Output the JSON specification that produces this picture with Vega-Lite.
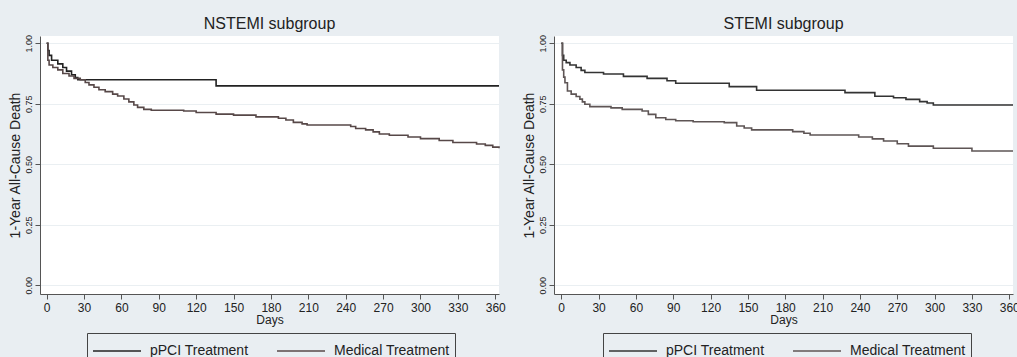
{
  "$schema": "https://vega.github.io/schema/vega-lite/v6.json",
  "background": "#e9eef2",
  "padding": {"left": 8, "top": 15, "right": 0, "bottom": 0},
  "config": {
    "font": "Liberation Sans",
    "view": {"stroke": null, "fill": "white"},
    "title": {"fontSize": 16, "fontWeight": "normal", "color": "#222222", "offset": 3},
    "axis": {"domainColor": "#555555", "tickColor": "#555555", "labelColor": "#222222", "titleColor": "#222222", "titleFontWeight": "normal", "tickSize": 5},
    "legend": {
      "orient": "none", "direction": "horizontal", "title": null,
      "symbolType": "M-1,0H3", "symbolSize": 576, "symbolStrokeWidth": 1.5,
      "labelFontSize": 14, "labelColor": "#222222", "labelOffset": 32, "columnPadding": 25,
      "padding": 5, "strokeColor": "#444444", "fillColor": "#e9eef2", "labelLimit": 0
    }
  },
  "data": {"values": [
    {"panel":"NSTEMI","group":"pPCI Treatment","day":0,"surv":1.0},
    {"panel":"NSTEMI","group":"pPCI Treatment","day":1,"surv":0.97},
    {"panel":"NSTEMI","group":"pPCI Treatment","day":2,"surv":0.95},
    {"panel":"NSTEMI","group":"pPCI Treatment","day":4,"surv":0.93},
    {"panel":"NSTEMI","group":"pPCI Treatment","day":9,"surv":0.915},
    {"panel":"NSTEMI","group":"pPCI Treatment","day":13,"surv":0.9},
    {"panel":"NSTEMI","group":"pPCI Treatment","day":16,"surv":0.885},
    {"panel":"NSTEMI","group":"pPCI Treatment","day":20,"surv":0.87},
    {"panel":"NSTEMI","group":"pPCI Treatment","day":23,"surv":0.858},
    {"panel":"NSTEMI","group":"pPCI Treatment","day":25,"surv":0.849},
    {"panel":"NSTEMI","group":"pPCI Treatment","day":136,"surv":0.824},
    {"panel":"NSTEMI","group":"pPCI Treatment","day":363,"surv":0.824},
    {"panel":"NSTEMI","group":"Medical Treatment","day":0,"surv":1.0},
    {"panel":"NSTEMI","group":"Medical Treatment","day":1,"surv":0.93},
    {"panel":"NSTEMI","group":"Medical Treatment","day":2,"surv":0.91},
    {"panel":"NSTEMI","group":"Medical Treatment","day":5,"surv":0.9},
    {"panel":"NSTEMI","group":"Medical Treatment","day":9,"surv":0.89},
    {"panel":"NSTEMI","group":"Medical Treatment","day":13,"surv":0.875},
    {"panel":"NSTEMI","group":"Medical Treatment","day":18,"surv":0.865},
    {"panel":"NSTEMI","group":"Medical Treatment","day":22,"surv":0.855},
    {"panel":"NSTEMI","group":"Medical Treatment","day":27,"surv":0.849},
    {"panel":"NSTEMI","group":"Medical Treatment","day":31,"surv":0.838},
    {"panel":"NSTEMI","group":"Medical Treatment","day":34,"surv":0.828},
    {"panel":"NSTEMI","group":"Medical Treatment","day":38,"surv":0.818},
    {"panel":"NSTEMI","group":"Medical Treatment","day":42,"surv":0.808},
    {"panel":"NSTEMI","group":"Medical Treatment","day":47,"surv":0.8},
    {"panel":"NSTEMI","group":"Medical Treatment","day":53,"surv":0.79},
    {"panel":"NSTEMI","group":"Medical Treatment","day":57,"surv":0.782},
    {"panel":"NSTEMI","group":"Medical Treatment","day":62,"surv":0.77},
    {"panel":"NSTEMI","group":"Medical Treatment","day":66,"surv":0.758},
    {"panel":"NSTEMI","group":"Medical Treatment","day":70,"surv":0.745},
    {"panel":"NSTEMI","group":"Medical Treatment","day":73,"surv":0.735},
    {"panel":"NSTEMI","group":"Medical Treatment","day":78,"surv":0.727},
    {"panel":"NSTEMI","group":"Medical Treatment","day":84,"surv":0.723},
    {"panel":"NSTEMI","group":"Medical Treatment","day":110,"surv":0.72},
    {"panel":"NSTEMI","group":"Medical Treatment","day":120,"surv":0.714},
    {"panel":"NSTEMI","group":"Medical Treatment","day":136,"surv":0.707},
    {"panel":"NSTEMI","group":"Medical Treatment","day":150,"surv":0.703},
    {"panel":"NSTEMI","group":"Medical Treatment","day":168,"surv":0.696},
    {"panel":"NSTEMI","group":"Medical Treatment","day":186,"surv":0.69},
    {"panel":"NSTEMI","group":"Medical Treatment","day":192,"surv":0.683},
    {"panel":"NSTEMI","group":"Medical Treatment","day":198,"surv":0.673},
    {"panel":"NSTEMI","group":"Medical Treatment","day":205,"surv":0.667},
    {"panel":"NSTEMI","group":"Medical Treatment","day":209,"surv":0.662},
    {"panel":"NSTEMI","group":"Medical Treatment","day":244,"surv":0.656},
    {"panel":"NSTEMI","group":"Medical Treatment","day":248,"surv":0.648},
    {"panel":"NSTEMI","group":"Medical Treatment","day":256,"surv":0.642},
    {"panel":"NSTEMI","group":"Medical Treatment","day":262,"surv":0.634},
    {"panel":"NSTEMI","group":"Medical Treatment","day":267,"surv":0.625},
    {"panel":"NSTEMI","group":"Medical Treatment","day":275,"surv":0.62},
    {"panel":"NSTEMI","group":"Medical Treatment","day":290,"surv":0.613},
    {"panel":"NSTEMI","group":"Medical Treatment","day":300,"surv":0.606},
    {"panel":"NSTEMI","group":"Medical Treatment","day":315,"surv":0.598},
    {"panel":"NSTEMI","group":"Medical Treatment","day":326,"surv":0.59},
    {"panel":"NSTEMI","group":"Medical Treatment","day":345,"surv":0.584},
    {"panel":"NSTEMI","group":"Medical Treatment","day":352,"surv":0.578},
    {"panel":"NSTEMI","group":"Medical Treatment","day":358,"surv":0.571},
    {"panel":"NSTEMI","group":"Medical Treatment","day":363,"surv":0.566},
    {"panel":"STEMI","group":"pPCI Treatment","day":0,"surv":1.0},
    {"panel":"STEMI","group":"pPCI Treatment","day":1,"surv":0.95},
    {"panel":"STEMI","group":"pPCI Treatment","day":2,"surv":0.93},
    {"panel":"STEMI","group":"pPCI Treatment","day":4,"surv":0.92},
    {"panel":"STEMI","group":"pPCI Treatment","day":7,"surv":0.91},
    {"panel":"STEMI","group":"pPCI Treatment","day":12,"surv":0.9},
    {"panel":"STEMI","group":"pPCI Treatment","day":16,"surv":0.888},
    {"panel":"STEMI","group":"pPCI Treatment","day":19,"surv":0.879},
    {"panel":"STEMI","group":"pPCI Treatment","day":34,"surv":0.873},
    {"panel":"STEMI","group":"pPCI Treatment","day":50,"surv":0.863},
    {"panel":"STEMI","group":"pPCI Treatment","day":69,"surv":0.855},
    {"panel":"STEMI","group":"pPCI Treatment","day":85,"surv":0.845},
    {"panel":"STEMI","group":"pPCI Treatment","day":92,"surv":0.835},
    {"panel":"STEMI","group":"pPCI Treatment","day":135,"surv":0.821},
    {"panel":"STEMI","group":"pPCI Treatment","day":157,"surv":0.806},
    {"panel":"STEMI","group":"pPCI Treatment","day":228,"surv":0.796},
    {"panel":"STEMI","group":"pPCI Treatment","day":252,"surv":0.781},
    {"panel":"STEMI","group":"pPCI Treatment","day":267,"surv":0.775},
    {"panel":"STEMI","group":"pPCI Treatment","day":277,"surv":0.768},
    {"panel":"STEMI","group":"pPCI Treatment","day":288,"surv":0.759},
    {"panel":"STEMI","group":"pPCI Treatment","day":294,"surv":0.753},
    {"panel":"STEMI","group":"pPCI Treatment","day":299,"surv":0.745},
    {"panel":"STEMI","group":"pPCI Treatment","day":363,"surv":0.745},
    {"panel":"STEMI","group":"Medical Treatment","day":0,"surv":1.0},
    {"panel":"STEMI","group":"Medical Treatment","day":1,"surv":0.89},
    {"panel":"STEMI","group":"Medical Treatment","day":2,"surv":0.86},
    {"panel":"STEMI","group":"Medical Treatment","day":3,"surv":0.837},
    {"panel":"STEMI","group":"Medical Treatment","day":5,"surv":0.803},
    {"panel":"STEMI","group":"Medical Treatment","day":8,"surv":0.79},
    {"panel":"STEMI","group":"Medical Treatment","day":12,"surv":0.78},
    {"panel":"STEMI","group":"Medical Treatment","day":15,"surv":0.769},
    {"panel":"STEMI","group":"Medical Treatment","day":17,"surv":0.758},
    {"panel":"STEMI","group":"Medical Treatment","day":19,"surv":0.748},
    {"panel":"STEMI","group":"Medical Treatment","day":23,"surv":0.738},
    {"panel":"STEMI","group":"Medical Treatment","day":40,"surv":0.733},
    {"panel":"STEMI","group":"Medical Treatment","day":49,"surv":0.727},
    {"panel":"STEMI","group":"Medical Treatment","day":65,"surv":0.72},
    {"panel":"STEMI","group":"Medical Treatment","day":70,"surv":0.706},
    {"panel":"STEMI","group":"Medical Treatment","day":76,"surv":0.692},
    {"panel":"STEMI","group":"Medical Treatment","day":84,"surv":0.685},
    {"panel":"STEMI","group":"Medical Treatment","day":92,"surv":0.68},
    {"panel":"STEMI","group":"Medical Treatment","day":106,"surv":0.676},
    {"panel":"STEMI","group":"Medical Treatment","day":131,"surv":0.672},
    {"panel":"STEMI","group":"Medical Treatment","day":141,"surv":0.658},
    {"panel":"STEMI","group":"Medical Treatment","day":147,"surv":0.65},
    {"panel":"STEMI","group":"Medical Treatment","day":153,"surv":0.642},
    {"panel":"STEMI","group":"Medical Treatment","day":186,"surv":0.635},
    {"panel":"STEMI","group":"Medical Treatment","day":195,"surv":0.628},
    {"panel":"STEMI","group":"Medical Treatment","day":200,"surv":0.621},
    {"panel":"STEMI","group":"Medical Treatment","day":239,"surv":0.613},
    {"panel":"STEMI","group":"Medical Treatment","day":250,"surv":0.605},
    {"panel":"STEMI","group":"Medical Treatment","day":259,"surv":0.596},
    {"panel":"STEMI","group":"Medical Treatment","day":270,"surv":0.585},
    {"panel":"STEMI","group":"Medical Treatment","day":279,"surv":0.575},
    {"panel":"STEMI","group":"Medical Treatment","day":299,"surv":0.566},
    {"panel":"STEMI","group":"Medical Treatment","day":330,"surv":0.555},
    {"panel":"STEMI","group":"Medical Treatment","day":363,"surv":0.555}
  ]},
  "spacing": 16,
  "resolve": {"scale": {"color": "independent"}, "legend": {"color": "independent"}},
  "hconcat": [
    {
      "title": "NSTEMI subgroup",
      "width": 459, "height": 258,
      "transform": [{"filter": "datum.panel === 'NSTEMI'"}],
      "mark": {"type": "line", "interpolate": "step-after", "strokeWidth": 1.6},
      "encoding": {
        "x": {"field": "day", "type": "quantitative", "scale": {"domain": [-5.3, 363], "nice": false, "zero": false},
              "axis": {"values": [0,30,60,90,120,150,180,210,240,270,300,330,360], "grid": false, "labelFontSize": 12, "labelPadding": 3, "title": "Days", "titleFontSize": 12, "titlePadding": 1}},
        "y": {"field": "surv", "type": "quantitative", "scale": {"domain": [-0.036, 1.03], "nice": false, "zero": false},
              "axis": {"values": [0,0.25,0.5,0.75,1], "format": ".2f", "grid": true, "gridColor": "#eaeff2", "labelAngle": 270, "labelAlign": "center", "labelBaseline": "bottom", "labelFontSize": 9, "labelPadding": 2, "title": "1-Year All-Cause Death", "titleFontSize": 14, "titlePadding": 2}},
        "color": {"field": "group", "type": "nominal",
                  "scale": {"domain": ["pPCI Treatment", "Medical Treatment"], "range": ["#222222", "#574848"]},
                  "legend": {"legendX": 47, "legendY": 297}}
      }
    },
    {
      "title": "STEMI subgroup",
      "width": 459, "height": 258,
      "transform": [{"filter": "datum.panel === 'STEMI'"}],
      "mark": {"type": "line", "interpolate": "step-after", "strokeWidth": 1.6},
      "encoding": {
        "x": {"field": "day", "type": "quantitative", "scale": {"domain": [-5.8, 363], "nice": false, "zero": false},
              "axis": {"values": [0,30,60,90,120,150,180,210,240,270,300,330,360], "grid": false, "labelFontSize": 12, "labelPadding": 3, "title": "Days", "titleFontSize": 12, "titlePadding": 1}},
        "y": {"field": "surv", "type": "quantitative", "scale": {"domain": [-0.036, 1.03], "nice": false, "zero": false},
              "axis": {"values": [0,0.25,0.5,0.75,1], "format": ".2f", "grid": true, "gridColor": "#eaeff2", "labelAngle": 270, "labelAlign": "center", "labelBaseline": "bottom", "labelFontSize": 9, "labelPadding": 2, "title": "1-Year All-Cause Death", "titleFontSize": 14, "titlePadding": 2}},
        "color": {"field": "group", "type": "nominal",
                  "scale": {"domain": ["pPCI Treatment", "Medical Treatment"], "range": ["#333333", "#5e5555"]},
                  "legend": {"legendX": 49, "legendY": 297}}
      }
    }
  ]
}
